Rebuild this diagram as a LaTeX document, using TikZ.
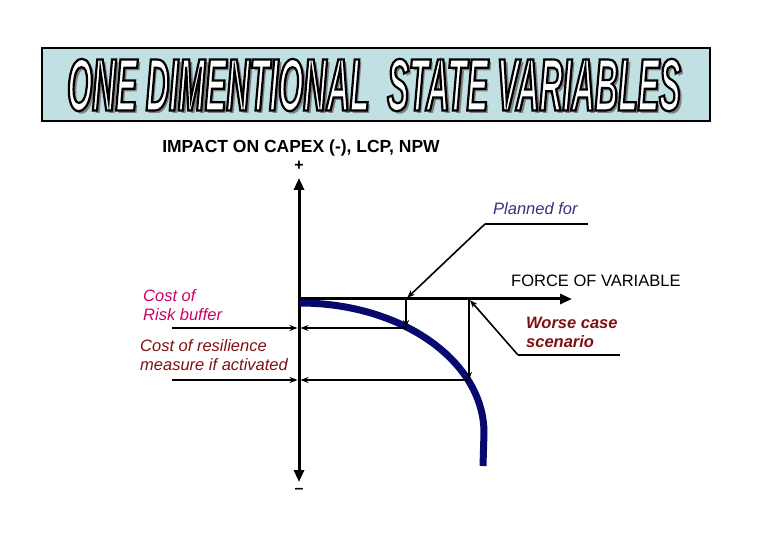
\documentclass[tikz,border=0pt]{standalone}
\usepackage{fontspec}
\setmainfont{Liberation Sans}
\newfontfamily\bannerfont[FakeStretch=0.435]{Liberation Sans}
\usetikzlibrary{arrows.meta}
\definecolor{boxblue}{RGB}{192,224,228}
\definecolor{curvenavy}{RGB}{8,8,110}
\definecolor{plannavy}{RGB}{51,51,128}
\definecolor{darkred}{RGB}{128,16,16}
\definecolor{riskpink}{RGB}{204,0,102}
\newcommand{\titleword}{\bannerfont\fontsize{74}{74}\selectfont\bfseries\itshape ONE DIMENTIONAL\ \ STATE VARIABLES}
\newcommand{\outlined}[1]{\special{pdf:literal direct 0 G 2 Tr 2.2 w}#1\special{pdf:literal direct 0 Tr}}
\begin{document}
\begin{tikzpicture}[x=1pt,y=-1pt,every node/.style={font=\fontsize{16.5}{19}\selectfont,inner sep=0pt},
  axis/.style={line width=3pt,-{Triangle[length=12pt,width=10pt]}},
  pointer/.style={line width=1.6pt,-{Stealth[length=8pt,width=6pt]}},
  leader/.style={line width=1.6pt}]
\useasboundingbox (0,0) rectangle (780,540);
% title banner
\draw[line width=2pt,fill=boxblue] (42,48) rectangle (710,121);
\node[gray] (shadow) at (377,88) {\titleword};
\node[white] (title) at (374,85) {\outlined{\titleword}};
% axes
\coordinate (O) at (299,299);
\coordinate (ytop) at (299,178);
\coordinate (ybot) at (299,482);
\coordinate (xend) at (572,299);
\node[font=\fontsize{17.5}{19}\selectfont\bfseries] (impact) at (301,148) {IMPACT ON CAPEX (-), LCP, NPW};
\node[font=\fontsize{16}{19}\selectfont\bfseries] (plus) at (299,166) {+};
\node[font=\fontsize{16}{19}\selectfont\bfseries] (minus) at (299,491) {--};
\node[anchor=west] (force) at (511,281) {FORCE OF VARIABLE};
\draw[axis] (O) -- (ytop);
\draw[axis] (O) -- (ybot);
% the curve
\draw[curvenavy,line width=7pt] (300,303) arc[start angle=-90,end angle=0,x radius=184,y radius=130] -- (483,466);
\draw[axis] (O) -- (xend);
% drops to the curve
\coordinate (P1) at (406,299);
\coordinate (C1) at (406,328);
\coordinate (P2) at (469,299);
\coordinate (C2) at (469,380);
\coordinate (Y1) at (299,328);
\coordinate (Y2) at (299,380);
\coordinate (L1) at (172,328);
\coordinate (L2) at (172,380);
\draw[pointer] (P1) -- (C1);
\draw[pointer] (P2) -- (C2);
\draw[pointer,shorten >=1.5pt] (L1) -- (Y1);
\draw[pointer,shorten >=1.5pt] (C1) -- (Y1);
\draw[pointer,shorten >=1.5pt] (L2) -- (Y2);
\draw[pointer,shorten >=1.5pt] (C2) -- (Y2);
% leaders
\coordinate (pl) at (485,224);
\coordinate (plend) at (588,224);
\coordinate (wc) at (518,355);
\coordinate (wcend) at (620,355);
\draw[leader] (plend) -- (pl);
\draw[pointer,shorten >=1.5pt] (pl) -- (P1);
\draw[leader] (wcend) -- (wc);
\draw[pointer,shorten >=1.5pt] (wc) -- (P2);
% labels
\node[anchor=west,plannavy,font=\fontsize{16.5}{19}\selectfont\itshape] (planned) at (493,209) {Planned for};
\node[anchor=west,align=left,darkred,font=\fontsize{16.5}{19}\selectfont\itshape\bfseries] (worse) at (526,332) {Worse case\\scenario};
\node[anchor=west,align=left,riskpink,font=\fontsize{16.5}{19}\selectfont\itshape] (risk) at (143,305) {Cost of\\Risk buffer};
\node[anchor=west,align=left,darkred,font=\fontsize{16.5}{19}\selectfont\itshape] (resil) at (140,355) {Cost of resilience\\measure if activated};
\end{tikzpicture}
\end{document}
